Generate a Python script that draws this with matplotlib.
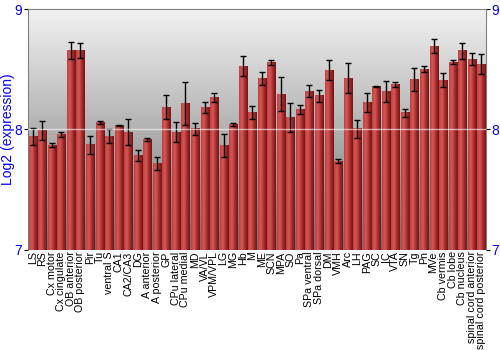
import numpy as np
import matplotlib
matplotlib.use('Agg')
import matplotlib.pyplot as plt
from matplotlib.colors import LinearSegmentedColormap

plt.rcParams['font.family'] = ['Liberation Sans', 'DejaVu Sans']

# 脑区名称
regions = ['LS', 'RS', 'Cx motor', 'Cx cingulate', 'OB anterior', 'OB posterior', 'Pir', 'Tu',
           'ventral S', 'CA1', 'CA2/CA3', 'DG', 'A anterior', 'A posterior', 'GP', 'CPu lateral',
           'CPu medial', 'MD', 'VA/VL', 'VPM/VPL', 'LG', 'MG', 'Hb', 'M', 'ME', 'SCN', 'MPA', 'SO',
           'Pa', 'SPa ventral', 'SPa dorsal', 'DM', 'VMH', 'Arc', 'LH', 'PAG', 'SC', 'IC', 'VTA', 'SN',
           'Tg', 'Pn', 'MVe', 'Cb vermis', 'Cb lobe', 'Cb nucleus', 'spinal cord anterior',
           'spinal cord posterior']

# log2 表达量
expr = [7.944, 7.99, 7.87, 7.96, 8.656, 8.656, 7.875, 8.056,
        7.944, 8.033, 7.978, 7.783, 7.917, 7.717, 8.186, 7.978,
        8.214, 8.006, 8.183, 8.264, 7.867, 8.039, 8.528, 8.139, 8.425, 8.556, 8.294, 8.097,
        8.167, 8.317, 8.281, 8.494, 7.739, 8.428, 8.008, 8.225, 8.358, 8.317, 8.372, 8.139,
        8.417, 8.503, 8.694, 8.411, 8.558, 8.653, 8.586, 8.544]

# 误差
err = [0.072, 0.08, 0.015, 0.022, 0.07, 0.06, 0.075, 0.012,
       0.057, 0.005, 0.107, 0.044, 0.015, 0.057, 0.1, 0.085,
       0.18, 0.05, 0.047, 0.037, 0.092, 0.014, 0.083, 0.053, 0.056, 0.022, 0.14, 0.12,
       0.039, 0.05, 0.049, 0.082, 0.018, 0.125, 0.075, 0.082, 0.004, 0.086, 0.022, 0.033,
       0.096, 0.025, 0.06, 0.061, 0.018, 0.068, 0.051, 0.079]

ymin, ymax = 7, 9
blue = '#0000ff'

fig = plt.figure(figsize=(5, 3.5), dpi=100)
ax = fig.add_axes([0.056, 0.286, 0.916, 0.688])

x = np.arange(len(regions))
w = 0.84

# 背景渐变
bg = LinearSegmentedColormap.from_list('bg', ['#707070', '#f2f2f2'])
ax.imshow(np.linspace(0, 1, 256).reshape(-1, 1), cmap=bg, aspect='auto', origin='lower',
          extent=[-0.5, len(regions) - 0.5, ymin, ymax], zorder=0)

# 柱子 (横向渐变)
barcm = LinearSegmentedColormap.from_list('bar', ['#c04040', '#d45858', '#a82c2c', '#701515'])
grad = np.linspace(0, 1, 64).reshape(1, -1)
for i, v in enumerate(expr):
    ax.imshow(grad, cmap=barcm, aspect='auto', extent=[i - w / 2, i + w / 2, ymin, v], zorder=2)

ax.errorbar(x, expr, yerr=err, fmt='none', ecolor='black', elinewidth=1,
            capsize=2, capthick=1, zorder=3)

ax.axhline(8, color='white', lw=1, alpha=0.6, zorder=4)

ax.set_xlim(-0.5, len(regions) - 0.5)
ax.set_ylim(ymin, ymax)
ax.set_yticks([7, 8, 9])
ax.tick_params(axis='y', labelcolor=blue, labelsize=10, length=3, pad=1, right=True, labelright=True)
ax.set_xticks(x)
ax.set_xticklabels(regions, rotation=90, fontsize=7.7)
ax.tick_params(axis='x', length=0, pad=1)
ax.set_ylabel('Log2 (expression)', color=blue, fontsize=10, labelpad=0)

for s in ['left', 'top', 'right']:
    ax.spines[s].set_color('#808080')
ax.spines['bottom'].set_visible(False)

fig.savefig('out.png', dpi=100)
